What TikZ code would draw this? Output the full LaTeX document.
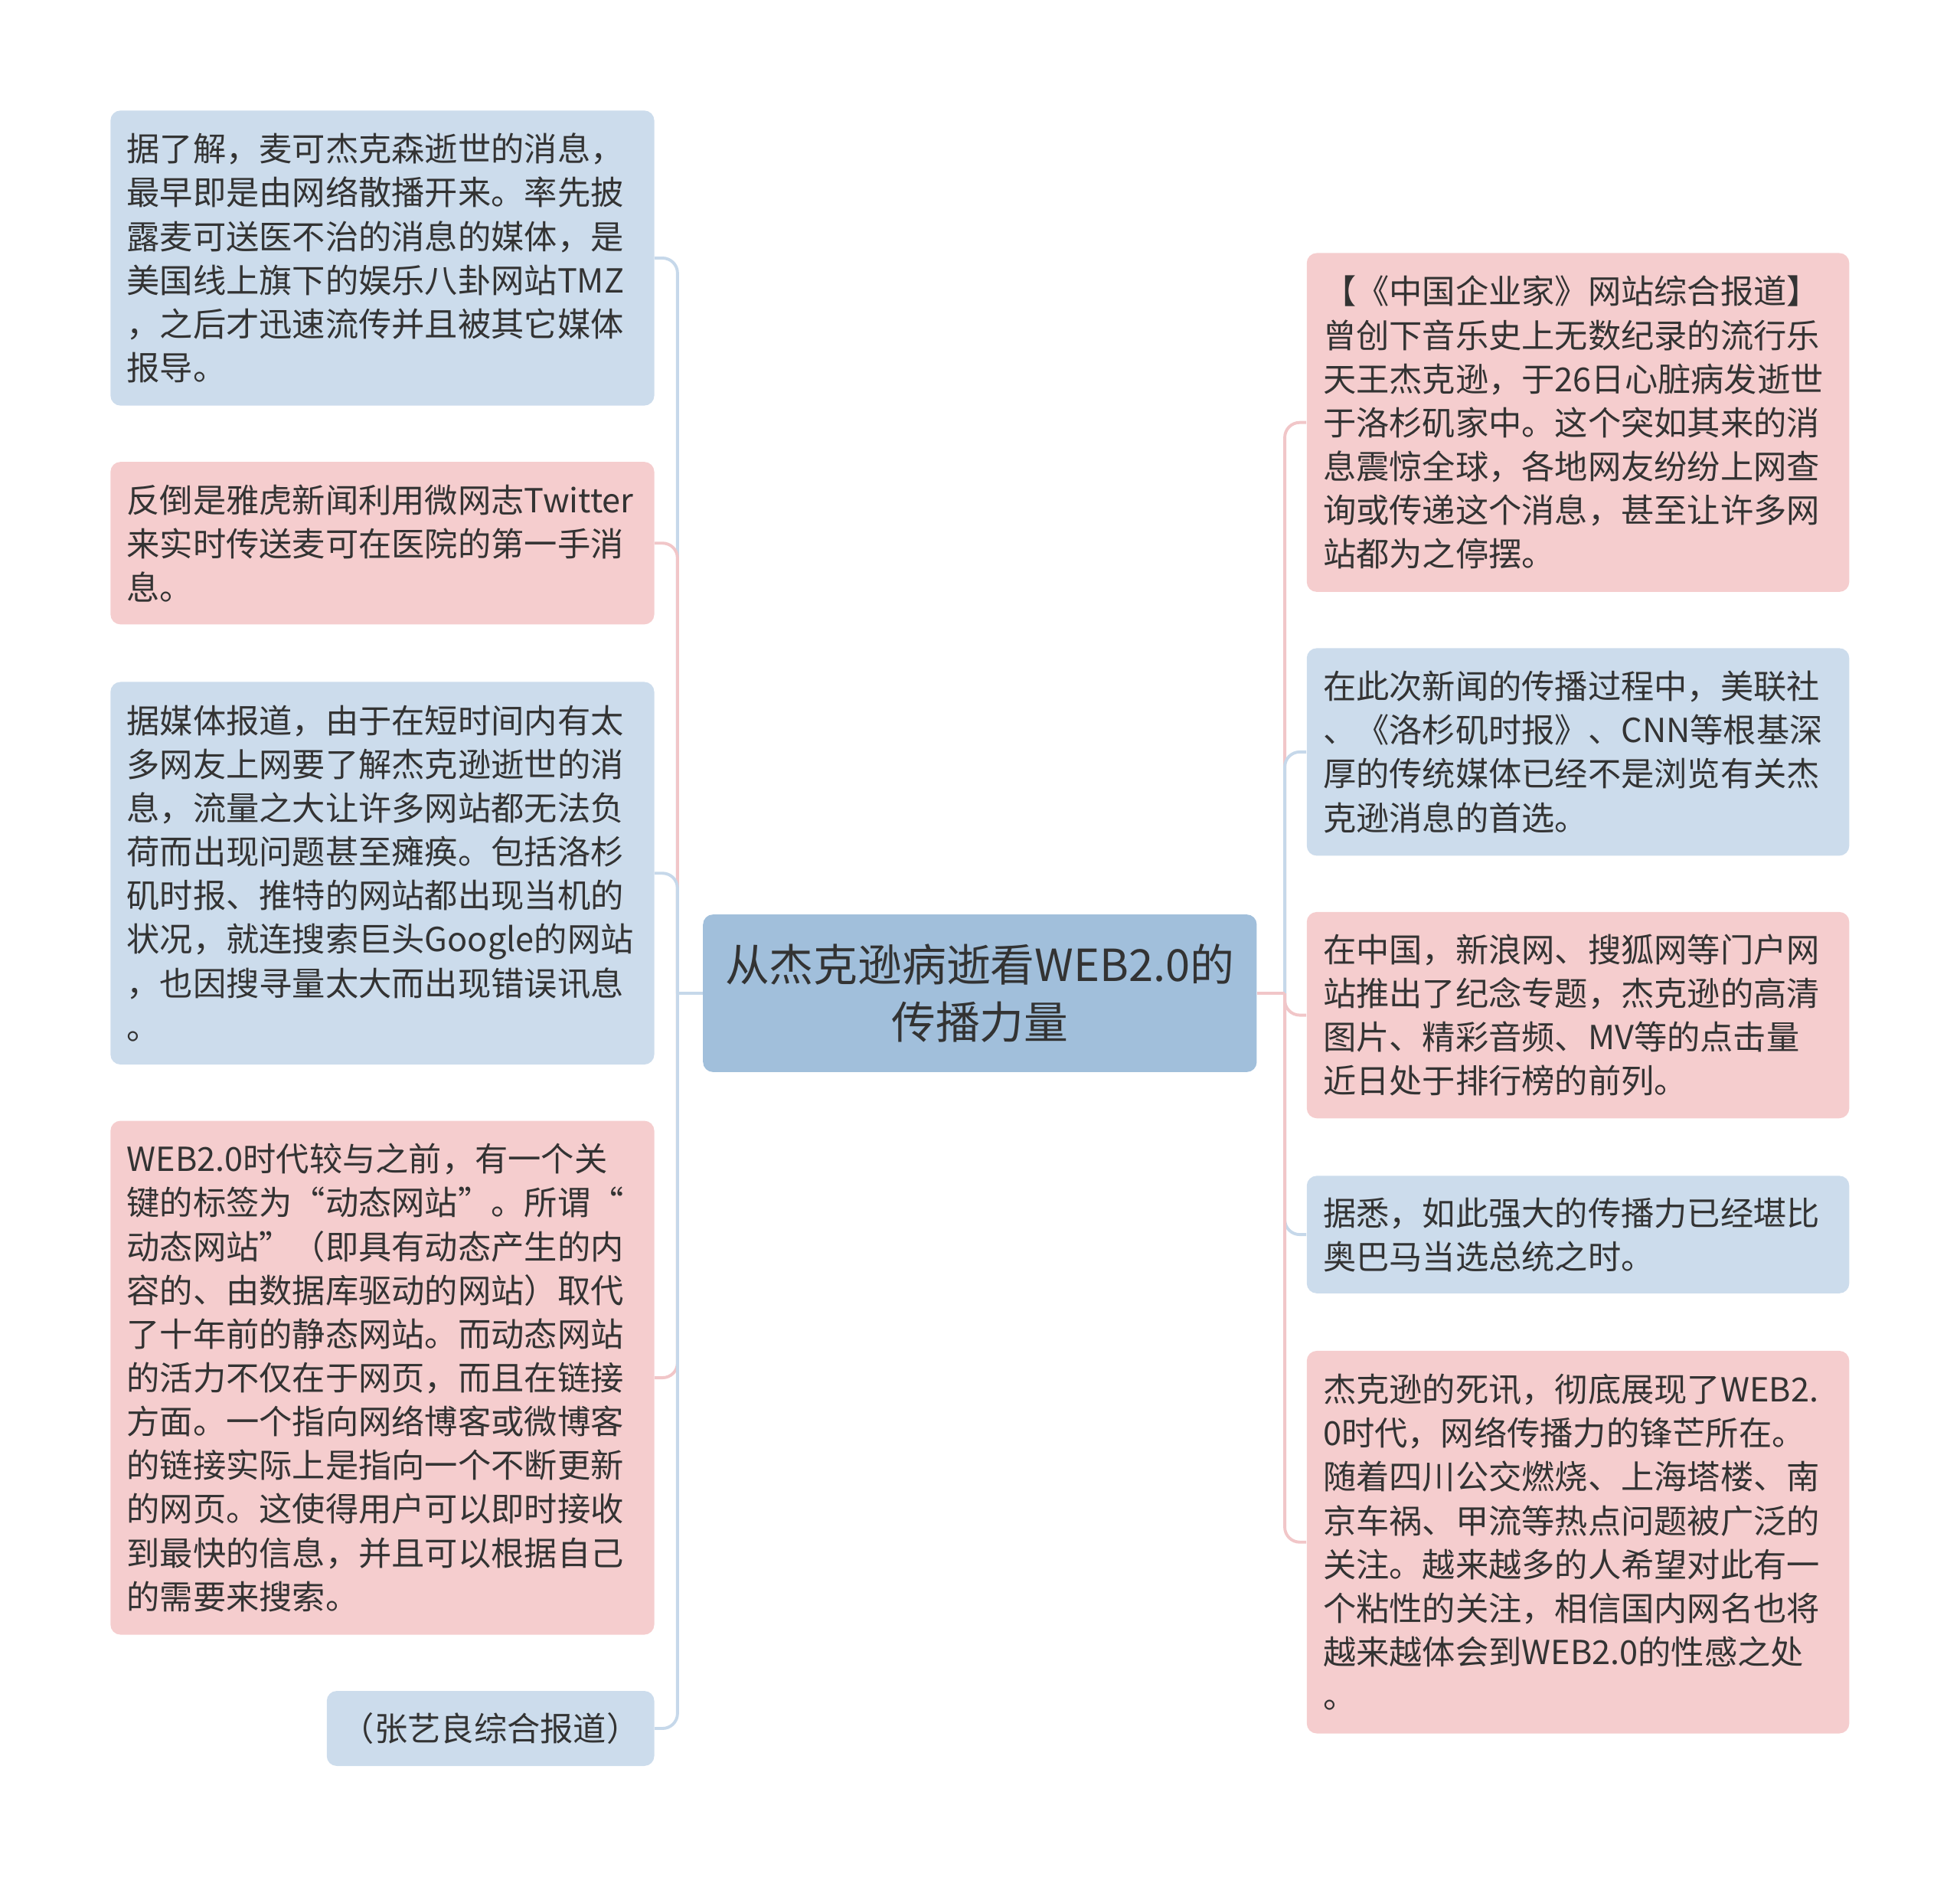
\documentclass[tikz,border=0pt]{standalone}
\usepackage{fontspec}
\setmainfont{Noto Sans CJK SC}
\usepackage{tikz}
\usetikzlibrary{positioning}
\usepackage{xcolor}
\definecolor{ink}{RGB}{51,51,51}
\definecolor{bluebox}{RGB}{204,220,236}
\definecolor{pinkbox}{RGB}{245,205,206}
\definecolor{rootbox}{RGB}{161,191,219}
\definecolor{blueline}{RGB}{198,216,234}
\definecolor{pinkline}{RGB}{241,198,200}

\tikzset{
  topic/.style={anchor=north west, rounded corners=4pt, inner xsep=6.5pt, inner ysep=0pt,
    align=left, text=ink, font=\fontsize{13.25}{17.5}\selectfont},
  leftbox/.style={topic, text width=204.5pt},
  rightbox/.style={topic, text width=204pt},
  link/.style={line width=1.2pt},
  branch/.style={link, rounded corners=6pt}
}

\begin{document}
\begin{tikzpicture}[x=0.5pt,y=-0.5pt]
    \useasboundingbox (0,0) rectangle (1568,1501);

    % Central topic
    \node[anchor=north west, rounded corners=4pt, fill=rootbox, text=ink, align=center,
      minimum width=221.5pt, minimum height=63pt, inner sep=0pt,
      font=\fontsize{17.7}{23}\selectfont] (root) at (562,731)
      {从杰克逊病逝看WEB2.0的\\传播力量};
    \coordinate (tl) at ([xshift=-10pt]root.west);
    \coordinate (tr) at ([xshift=11pt]root.east);

    % Left side
    \node[leftbox, fill=bluebox, minimum height=118pt] (l1) at (88,88)
      {据了解，麦可杰克森逝世的消息，\\最早即是由网络散播开来。率先披\\露麦可送医不治的消息的媒体，是\\美国线上旗下的娱乐八卦网站TMZ\\，之后才迅速流传并且被其它媒体\\报导。};
    \node[leftbox, fill=pinkbox, minimum height=65pt] (l2) at (88,369)
      {反倒是雅虎新闻利用微网志Twitter\\来实时传送麦可在医院的第一手消\\息。};
    \node[leftbox, fill=bluebox, minimum height=153pt] (l3) at (88,545)
      {据媒体报道，由于在短时间内有太\\多网友上网要了解杰克逊逝世的消\\息，流量之大让许多网站都无法负\\荷而出现问题甚至瘫痪。包括洛杉\\矶时报、推特的网站都出现当机的\\状况，就连搜索巨头Google的网站\\，也因搜寻量太大而出现错误讯息\\。};
    \node[leftbox, fill=pinkbox, minimum height=205.5pt] (l4) at (88,896)
      {WEB2.0时代较与之前，有一个关\\键的标签为“动态网站”。所谓“\\动态网站”（即具有动态产生的内\\容的、由数据库驱动的网站）取代\\了十年前的静态网站。而动态网站\\的活力不仅在于网页，而且在链接\\方面。一个指向网络博客或微博客\\的链接实际上是指向一个不断更新\\的网页。这使得用户可以即时接收\\到最快的信息，并且可以根据自己\\的需要来搜索。};
    \node[topic, fill=bluebox, align=center, inner xsep=0pt, minimum width=131pt, minimum height=30pt] (l5) at (261,1352)
      {（张艺良综合报道）};

    % Right side
    \node[rightbox, fill=pinkbox, minimum height=135.5pt] (r1) at (1045,202)
      {【《中国企业家》网站综合报道】\\曾创下音乐史上无数纪录的流行乐\\天王杰克逊，于26日心脏病发逝世\\于洛杉矶家中。这个突如其来的消\\息震惊全球，各地网友纷纷上网查\\询或传递这个消息，甚至让许多网\\站都为之停摆。};
    \node[rightbox, fill=bluebox, minimum height=83pt] (r2) at (1045,518)
      {在此次新闻的传播过程中，美联社\\、《洛杉矶时报》、CNN等根基深\\厚的传统媒体已经不是浏览有关杰\\克逊消息的首选。};
    \node[rightbox, fill=pinkbox, minimum height=82.5pt] (r3) at (1045,729)
      {在中国，新浪网、搜狐网等门户网\\站推出了纪念专题，杰克逊的高清\\图片、精彩音频、MV等的点击量\\近日处于排行榜的前列。};
    \node[rightbox, fill=bluebox, minimum height=47pt] (r4) at (1045,940)
      {据悉，如此强大的传播力已经堪比\\奥巴马当选总统之时。};
    \node[rightbox, fill=pinkbox, minimum height=153pt] (r5) at (1045,1080)
      {杰克逊的死讯，彻底展现了WEB2.\\0时代，网络传播力的锋芒所在。\\随着四川公交燃烧、上海塔楼、南\\京车祸、甲流等热点问题被广泛的\\关注。越来越多的人希望对此有一\\个粘性的关注，相信国内网名也将\\越来越体会到WEB2.0的性感之处\\。};

    % Connectors, left
    \draw[link, blueline] (root.west) -- (tl);
    \draw[branch, blueline] (tl) |- (l1.east);
    \draw[link, pinkline] (root.west) -- (tl);
    \draw[branch, pinkline] (tl) |- (l2.east);
    \draw[link, blueline] (root.west) -- (tl);
    \draw[branch, blueline] (tl) |- (l3.east);
    \draw[link, pinkline] (root.west) -- (tl);
    \draw[branch, pinkline] (tl) |- (l4.east);
    \draw[link, blueline] (root.west) -- (tl);
    \draw[branch, blueline] (tl) |- (l5.east);

    % Connectors, right
    \draw[link, pinkline] (root.east) -- (tr);
    \draw[branch, pinkline] (tr) |- (r1.west);
    \draw[link, blueline] (root.east) -- (tr);
    \draw[branch, blueline] (tr) |- (r2.west);
    \draw[link, pinkline] (root.east) -- (tr);
    \draw[branch, pinkline] (tr) |- (r3.west);
    \draw[link, blueline] (root.east) -- (tr);
    \draw[branch, blueline] (tr) |- (r4.west);
    \draw[link, pinkline] (root.east) -- (tr);
    \draw[branch, pinkline] (tr) |- (r5.west);
\end{tikzpicture}
\end{document}
